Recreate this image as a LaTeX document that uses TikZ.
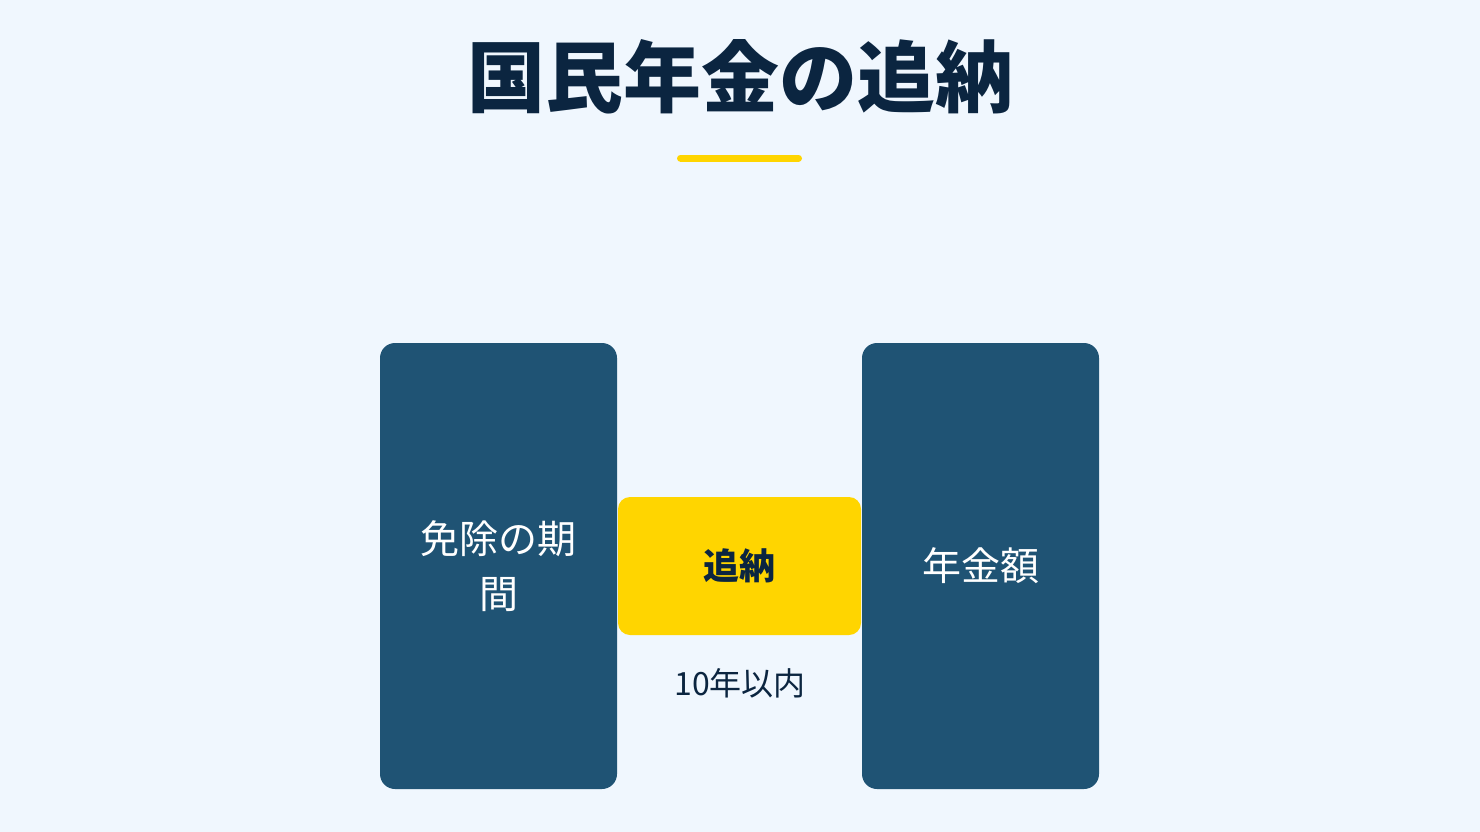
\documentclass[tikz,border=0pt]{standalone}
\usepackage{fontspec}
\setmainfont{Noto Sans CJK JP}
\usepackage{tikz}
\definecolor{bgblue}{HTML}{F0F7FE}
\definecolor{navy}{HTML}{0B2540}
\definecolor{boxblue}{HTML}{1F5374}
\definecolor{gold}{HTML}{FFD500}

\begin{document}
\begin{tikzpicture}[x=1pt,y=-1pt,
  every node/.style={inner sep=0pt},
  tallbox/.style={fill=boxblue,rounded corners=15pt,minimum width=237pt,minimum height=446pt,
    text=white,align=center,font=\fontsize{39}{55}\selectfont},
  midbox/.style={fill=gold,rounded corners=12pt,minimum width=243pt,minimum height=138pt,
    text=navy,font=\fontsize{36}{40}\selectfont\bfseries}]
\fill [bgblue] (0,0) rectangle (1480,832);
\useasboundingbox (0,0) rectangle (1480,832);
\node (title) at (740,77) {\fontsize{78}{84}\selectfont\bfseries\color{navy}国民年金の追納};
\coordinate (ulA) at (680.5,158);
\coordinate (ulB) at (798.5,158);
\draw [gold,line width=7pt,line cap=round] (ulA) -- (ulB);
\node [midbox] (tsuino) at (739.5,566) {追納};
\node [tallbox] (menjo) at (498.5,566) {免除の期\\間};
\node [tallbox] (nenkin) at (980.5,566) {年金額};
\node [text=navy,font=\fontsize{32}{36}\selectfont] (limit) at (740,683) {10年以内};
\end{tikzpicture}
\end{document}
